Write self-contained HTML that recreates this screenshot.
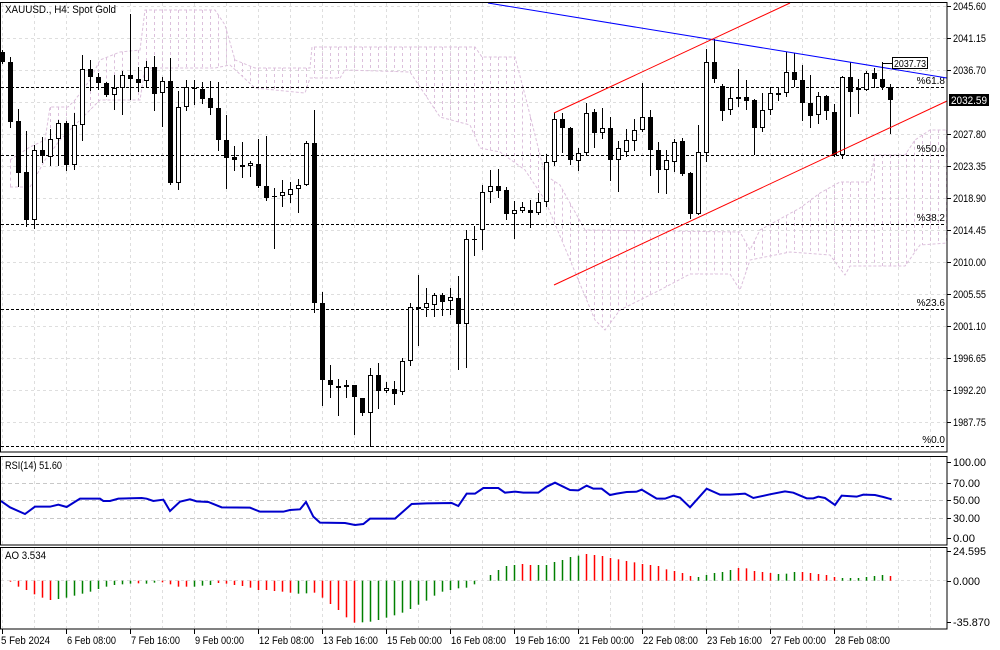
<!DOCTYPE html>
<html><head><meta charset="utf-8"><style>
html,body{margin:0;padding:0;background:#fff;width:1000px;height:650px;overflow:hidden}
svg{display:block;font-family:"Liberation Sans",sans-serif}
</style></head><body>
<svg id="s" width="1000" height="650" viewBox="0 0 1000 650" xmlns="http://www.w3.org/2000/svg"></svg>
<script>
var o='';
function L(x1,y1,x2,y2,c,w,d){o+='<line x1="'+x1+'" y1="'+y1+'" x2="'+x2+'" y2="'+y2+'" stroke="'+c+'" stroke-width="'+(w||1)+'"'+(d?' stroke-dasharray="'+d+'"':'')+'/>';}
function T(x,y,t,sz,anc,col,tl){o+='<text x="'+x+'" y="'+y+'" font-size="'+(sz||11)+'"'+(anc?' text-anchor="'+anc+'"':'')+(tl?' textLength="'+tl+'" lengthAdjust="spacingAndGlyphs"':'')+' fill="'+(col||'#000')+'">'+t+'</text>';}
var G='#dedede',GD='3,3';
var ty=[6,38,70,102,134,166,198,230,262,294,326,358,390,422];
for(var k=0;k<30;k++){var gx=2.5+32*k;if(gx>946)break;L(gx,3,gx,451,G,1,GD);L(gx,457,gx,544,G,1,GD);L(gx,548,gx,628,G,1,GD);}
ty.forEach(function(y){L(1,y+.5,946,y+.5,G,1,GD);});
[483,500,518].forEach(function(y){L(1,y+.5,946,y+.5,'#c8c8c8',1,'4,3');});
L(1,580.5,946,580.5,G,1,GD);
var U=[[10,160],[30,147],[45,140],[50,107],[68,107],[75,100],[90,80],[100,60],[120,52],[140,50],[145,10],[215,10],[225,25],[235,60],[255,68],[310,68],[312,47],[475,47],[482,57],[515,57],[525,95],[545,175],[560,185],[585,230],[740,232],[750,250],[760,230],[800,208],[820,193],[840,182],[870,182],[875,155],[905,155],[915,140],[930,130],[947,130]];
var Lw=[[10,187],[30,187],[45,160],[60,140],[80,120],[100,100],[140,100],[145,68],[215,68],[230,65],[255,88],[305,93],[310,78],[340,78],[345,70],[410,72],[440,117],[470,125],[480,148],[500,152],[525,170],[545,200],[570,260],[595,320],[605,330],[620,310],[660,290],[690,274],[730,274],[740,290],[750,260],[790,252],[830,255],[845,275],[850,266],[905,266],[920,245],[947,243]];
function interp(a,x){for(var i=0;i<a.length-1;i++){if(x>=a[i][0]&&x<=a[i+1][0]){var t=(x-a[i][0])/(a[i+1][0]-a[i][0]||1);return a[i][1]+t*(a[i+1][1]-a[i][1]);}}return null;}
var CC='#dcc0dc';
function PL(a,c,w,d){o+='<polyline fill="none" stroke="'+c+'" stroke-width="'+w+'"'+(d?' stroke-dasharray="'+d+'"':'')+' points="'+a.map(function(p){return p[0]+','+p[1]}).join(' ')+'"/>';}
PL(U,CC,1,'3,2');PL(Lw,CC,1,'3,2');
for(var x=10.5;x<947;x+=8){var a=interp(U,x),b=interp(Lw,x);if(a!=null&&b!=null)L(x,a,x,b,CC,1,'3,3');}
[[87,'%61.8'],[155,'%50.0'],[224,'%38.2'],[309,'%23.6'],[446,'%0.0']].forEach(function(f){L(1,f[0]+.5,946,f[0]+.5,'#000',1,'3,2');T(945,f[0]-3,f[1],10,'end');});
var C=[[52,62,50,64,1],[62,122,57,128,1],[121,173,109,187,1],[172,220,131,227,1],[150,220,145,229,0],[150,156,137,163,1],[139,157,129,166,0],[123,139,120,166,0],[123,165,121,171,1],[125,165,113,170,0],[69,125,55,141,0],[69,77,60,91,1],[77,83,73,90,1],[83,95,82,97,1],[88,95,75,110,0],[75,88,71,115,0],[75,79,14,100,1],[79,83,67,92,1],[67,81,61,88,0],[67,94,56,111,1],[81,93,77,127,0],[81,183,58,185,1],[107,183,91,190,0],[87,107,80,111,0],[88,89,80,105,1],[89,99,82,104,1],[98,108,81,115,1],[108,140,82,151,1],[140,158,115,189,1],[157,160,146,171,1],[165,167,142,178,0],[163,166,161,177,0],[164,186,139,188,1],[186,198,136,201,1],[196,197,188,249,1],[192,196,180,207,0],[189,195,182,203,0],[185,189,179,213,0],[143,185,141,186,0],[143,303,110,313,1],[303,380,292,406,1],[380,385,365,398,1],[386,388,379,416,0],[385,387,380,398,1],[385,397,385,435,1],[398,413,398,416,1],[375,413,368,447,0],[375,391,363,409,1],[388,391,382,393,0],[389,394,381,405,1],[361,392,358,395,0],[307,361,303,366,0],[307,309,275,346,1],[303,308,288,317,0],[295,305,293,317,0],[295,302,293,316,1],[297,301,288,315,0],[298,324,276,370,1],[239,324,230,368,0],[239,240,226,256,1],[192,230,185,250,0],[186,192,170,203,0],[186,191,169,198,1],[190,214,187,220,1],[210,214,201,239,0],[207,211,202,213,0],[210,213,200,228,1],[202,213,193,215,0],[162,202,154,207,0],[119,162,113,166,0],[119,128,113,153,1],[128,160,127,165,1],[153,161,148,171,0],[113,153,103,156,0],[112,133,109,148,1],[128,133,108,139,0],[128,160,117,181,1],[148,160,141,192,0],[140,152,129,157,0],[130,141,119,151,0],[117,130,83,132,0],[117,150,110,176,1],[150,170,142,193,1],[160,170,150,194,0],[142,162,139,172,0],[141,174,138,176,1],[173,214,172,219,1],[152,214,125,215,0],[62,153,49,162,0],[62,79,39,83,1],[86,111,84,121,1],[98,110,87,115,0],[97,98,69,107,0],[97,101,80,110,1],[100,128,99,155,1],[110,128,93,132,0],[93,110,87,115,0],[93,94,87,101,0],[72,93,52,97,0],[72,80,53,87,1],[80,103,65,121,1],[103,116,75,128,1],[96,115,92,124,0],[96,111,95,120,1],[112,155,104,157,1],[77,155,76,159,0],[77,92,62,117,1],[88,90,79,114,0],[73,90,71,91,0],[73,79,68,88,1],[79,87,62,90,1],[87,100,84,134,1]];
C.forEach(function(c,i){var x=2.5+8*i;L(x,c[2],x,c[3],'#000',1);var h=Math.max(c[1]-c[0],1);
if(c[4])o+='<rect x="'+(x-2.5)+'" y="'+c[0]+'" width="5" height="'+h+'" fill="#000"/>';
else o+='<rect x="'+(x-2)+'" y="'+(c[0]+.5)+'" width="4" height="'+Math.max(h-1,1)+'" fill="#fff" stroke="#000" stroke-width="1"/>';});
L(488,3,947,78,'#0000ff',1);
L(554,113,790,3,'#ff0000',1);
L(554,285,947,101,'#ff0000',1);
L(882,63.5,892,63.5,'#000',1);L(882.5,63,882.5,70,'#000',1);
o+='<rect x="892.5" y="57.5" width="35" height="11" fill="#fff" stroke="#000"/>';T(894,67,'2037.73',10,null,null,32);
var R1=[[10,143],[30,157],[75,177],[105,155],[150,155],[175,149],[200,156],[240,131],[300,131],[310,138],[330,138],[355,131],[425,129],[440,131],[460,138],[490,134],[510,168],[540,140],[570,133],[590,139],[625,141],[665,157],[750,158],[780,170],[850,170],[870,165],[900,163],[918,141],[940,185],[960,203],[1035,204],[1065,210],[1090,207],[1110,191],[1185,191],[1235,147],[1280,145],[1355,144],[1375,153],[1400,116]];
var R2=[[20,116],[45,116],[70,99],[115,99],[135,113],[165,110],[190,113],[235,113],[260,95],[285,83],[330,105],[355,106],[380,92],[400,101],[425,101],[450,120],[470,116],[500,111],[530,110],[545,104],[590,131],[615,131],[640,122],[660,128],[690,157],[740,101],[780,119],[810,119],[855,116],[880,129],[930,118],[975,109],[1000,113],[1040,130],[1060,130],[1075,125],[1095,129],[1125,150],[1145,122],[1190,125],[1210,119],[1245,120],[1270,126],[1295,133]];
var R=[[1,501]].concat(R1.map(function(p){return[p[0]/3,455+p[1]/3]}),R2.map(function(p){return[460+p[0]/3,455+p[1]/3]}));
PL(R,'#0000cc',2);
var A=[380,395,405,418,428,435,432,428,422,416,410,402,395,390,388,386,385,386,383,382,388,395,395,395,392,390,384,386,390,393,398,405,405,408,410,413,416,415,413,428,447,465,487,503,502,500,495,488,481,473,462,449,437,422,410,405,400,398,388,377,360,345,333,330,327,330,330,330,321,315,306,302,297,300,303,309,313,318,322,327,330,333,343,348,354,363,366,360,354,351,345,339,340,348,351,354,357,356,351,351,354,357,360,366,369,369,369,366,363,360,363];
var AC='rrrrrrggggggggggrggrrrrgggrrrrrrrrrrggrrrrrrggggggggggggggg'+'gggggrrggggggrrrrrrrrrrrrrrgggggrrrrrgggrrrrrggggggr';
A.forEach(function(v,j){var i=j+1;var x=2.5+8*i;var y=455+v/3;if(Math.abs(v-377)<1)return;var col=AC[j]=='g'?'#008000':'#ff0000';
o+='<rect x="'+(x-0.75)+'" y="'+Math.min(y,580.7)+'" width="1.5" height="'+Math.max(Math.abs(y-580.7),1)+'" fill="'+col+'"/>';});
o+='<rect x="0.5" y="2.5" width="946.5" height="449.5" fill="none" stroke="#000"/>';
o+='<rect x="0.5" y="456.5" width="946.5" height="88.5" fill="none" stroke="#000"/>';
o+='<rect x="0.5" y="547.5" width="946.5" height="81.5" fill="none" stroke="#000"/>';
var pl=['2045.60','2041.15','2036.70','2032.25','2027.80','2023.35','2018.90','2014.45','2010.00','2005.55','2001.10','1996.65','1992.20','1987.75'];
ty.forEach(function(y,i){if(i==3)return;L(947,y+.5,951,y+.5,'#000');T(953,y+4,pl[i],11,null,null,33);});
[[462,'100.00',33],[483,'70.00',27],[500,'50.00',27],[518,'30.00',27],[538,'0.00',22]].forEach(function(a){L(947,a[0]+.5,951,a[0]+.5,'#000');T(953,a[0]+4,a[1],11,null,null,a[2]);});
[[551,'24.595',33],[581,'0.000',27],[622,'-35.870',37]].forEach(function(a){L(947,a[0]+.5,951,a[0]+.5,'#000');T(953,a[0]+4,a[1],11,null,null,a[2]);});
o+='<rect x="949" y="94" width="40" height="12" fill="#000"/>';T(951,104,'2032.59',11,null,'#fff',36);
var tl=[[2,'5 Feb 2024',49],[66,'6 Feb 08:00',49],[130,'7 Feb 16:00',49],[194,'9 Feb 00:00',49],[258,'12 Feb 08:00',55],[322,'13 Feb 16:00',55],[386,'15 Feb 00:00',55],[450,'16 Feb 08:00',55],[514,'19 Feb 16:00',55],[578,'21 Feb 00:00',55],[642,'22 Feb 08:00',55],[706,'23 Feb 16:00',55],[770,'27 Feb 00:00',55],[834,'28 Feb 08:00',55]];
tl.forEach(function(t){L(t[0]+.5,629,t[0]+.5,634,'#000');T(t[0]+(t[0]<10?-1:1),644,t[1],11,null,null,t[2]);});
T(5,13,'XAUUSD., H4:  Spot Gold',11,null,null,111);
T(5,469,'RSI(14) 51.60',11,null,null,57);
T(5,559,'AO 3.534',11,null,null,41);
document.getElementById('s').innerHTML=o;
</script>
</body></html>
